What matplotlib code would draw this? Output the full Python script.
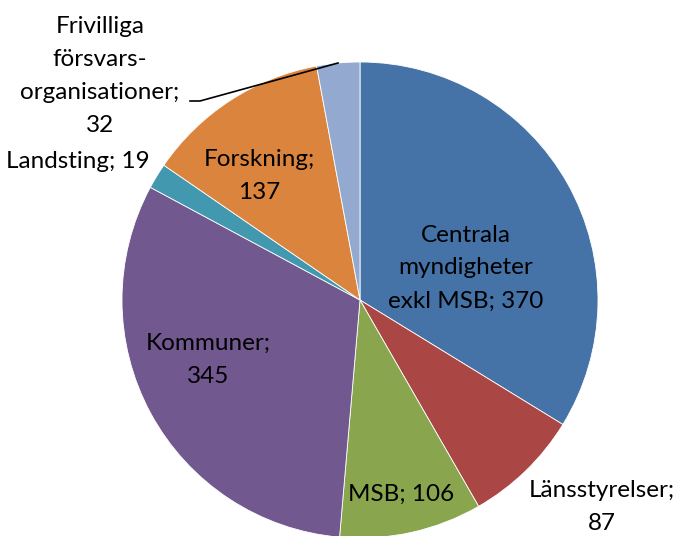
import matplotlib
matplotlib.use("Agg")
import matplotlib.pyplot as plt

labels = ["Centrala\nmyndigheter\nexkl MSB", "Länsstyrelser", "MSB", "Kommuner",
          "Landsting", "Forskning", "Frivilliga\nförsvars-\norganisationer"]
values = [370, 87, 106, 345, 19, 137, 32]
colors = ["#4572A7", "#AA4643", "#89A54E", "#71588F", "#4198AF", "#DB843D", "#93A9CF"]

# label text and pixel position (x, y from top)
label_text = ["Centrala\nmyndigheter\nexkl MSB; 370", "Länsstyrelser;\n87", "MSB; 106",
              "Kommuner;\n345", "Landsting; 19", "Forskning;\n137",
              "Frivilliga\nförsvars-\norganisationer;\n32"]
label_pos = [(466, 268), (602, 507), (401, 494), (208, 360), (78, 162), (259, 176), (100, 76)]

W, H = 678, 536
plt.rcParams['font.family'] = ['Lato', 'DejaVu Sans']
fig = plt.figure(figsize=(W / 100, H / 100), dpi=100)
ax = fig.add_axes([0, 0, 1, 1])

cx, cy, r = 360, H - 300, 238
ax.pie(values, colors=colors, startangle=90, counterclock=False,
       center=(cx, cy), radius=r, frame=True,
       wedgeprops=dict(edgecolor='white', linewidth=0.6))
ax.set_xlim(0, W)
ax.set_ylim(0, H)
ax.set_aspect('equal')
ax.axis('off')

for t, (x, y) in zip(label_text, label_pos):
    ax.text(x, H - y, t, ha='center', va='center', fontsize=17.5,
            linespacing=1.7, color='black')

# leader line for Frivilliga
ax.plot([190, 200, 338], [H - 101, H - 101, H - 63], color='black', lw=1.2)

fig.savefig("out.png", dpi=100)
